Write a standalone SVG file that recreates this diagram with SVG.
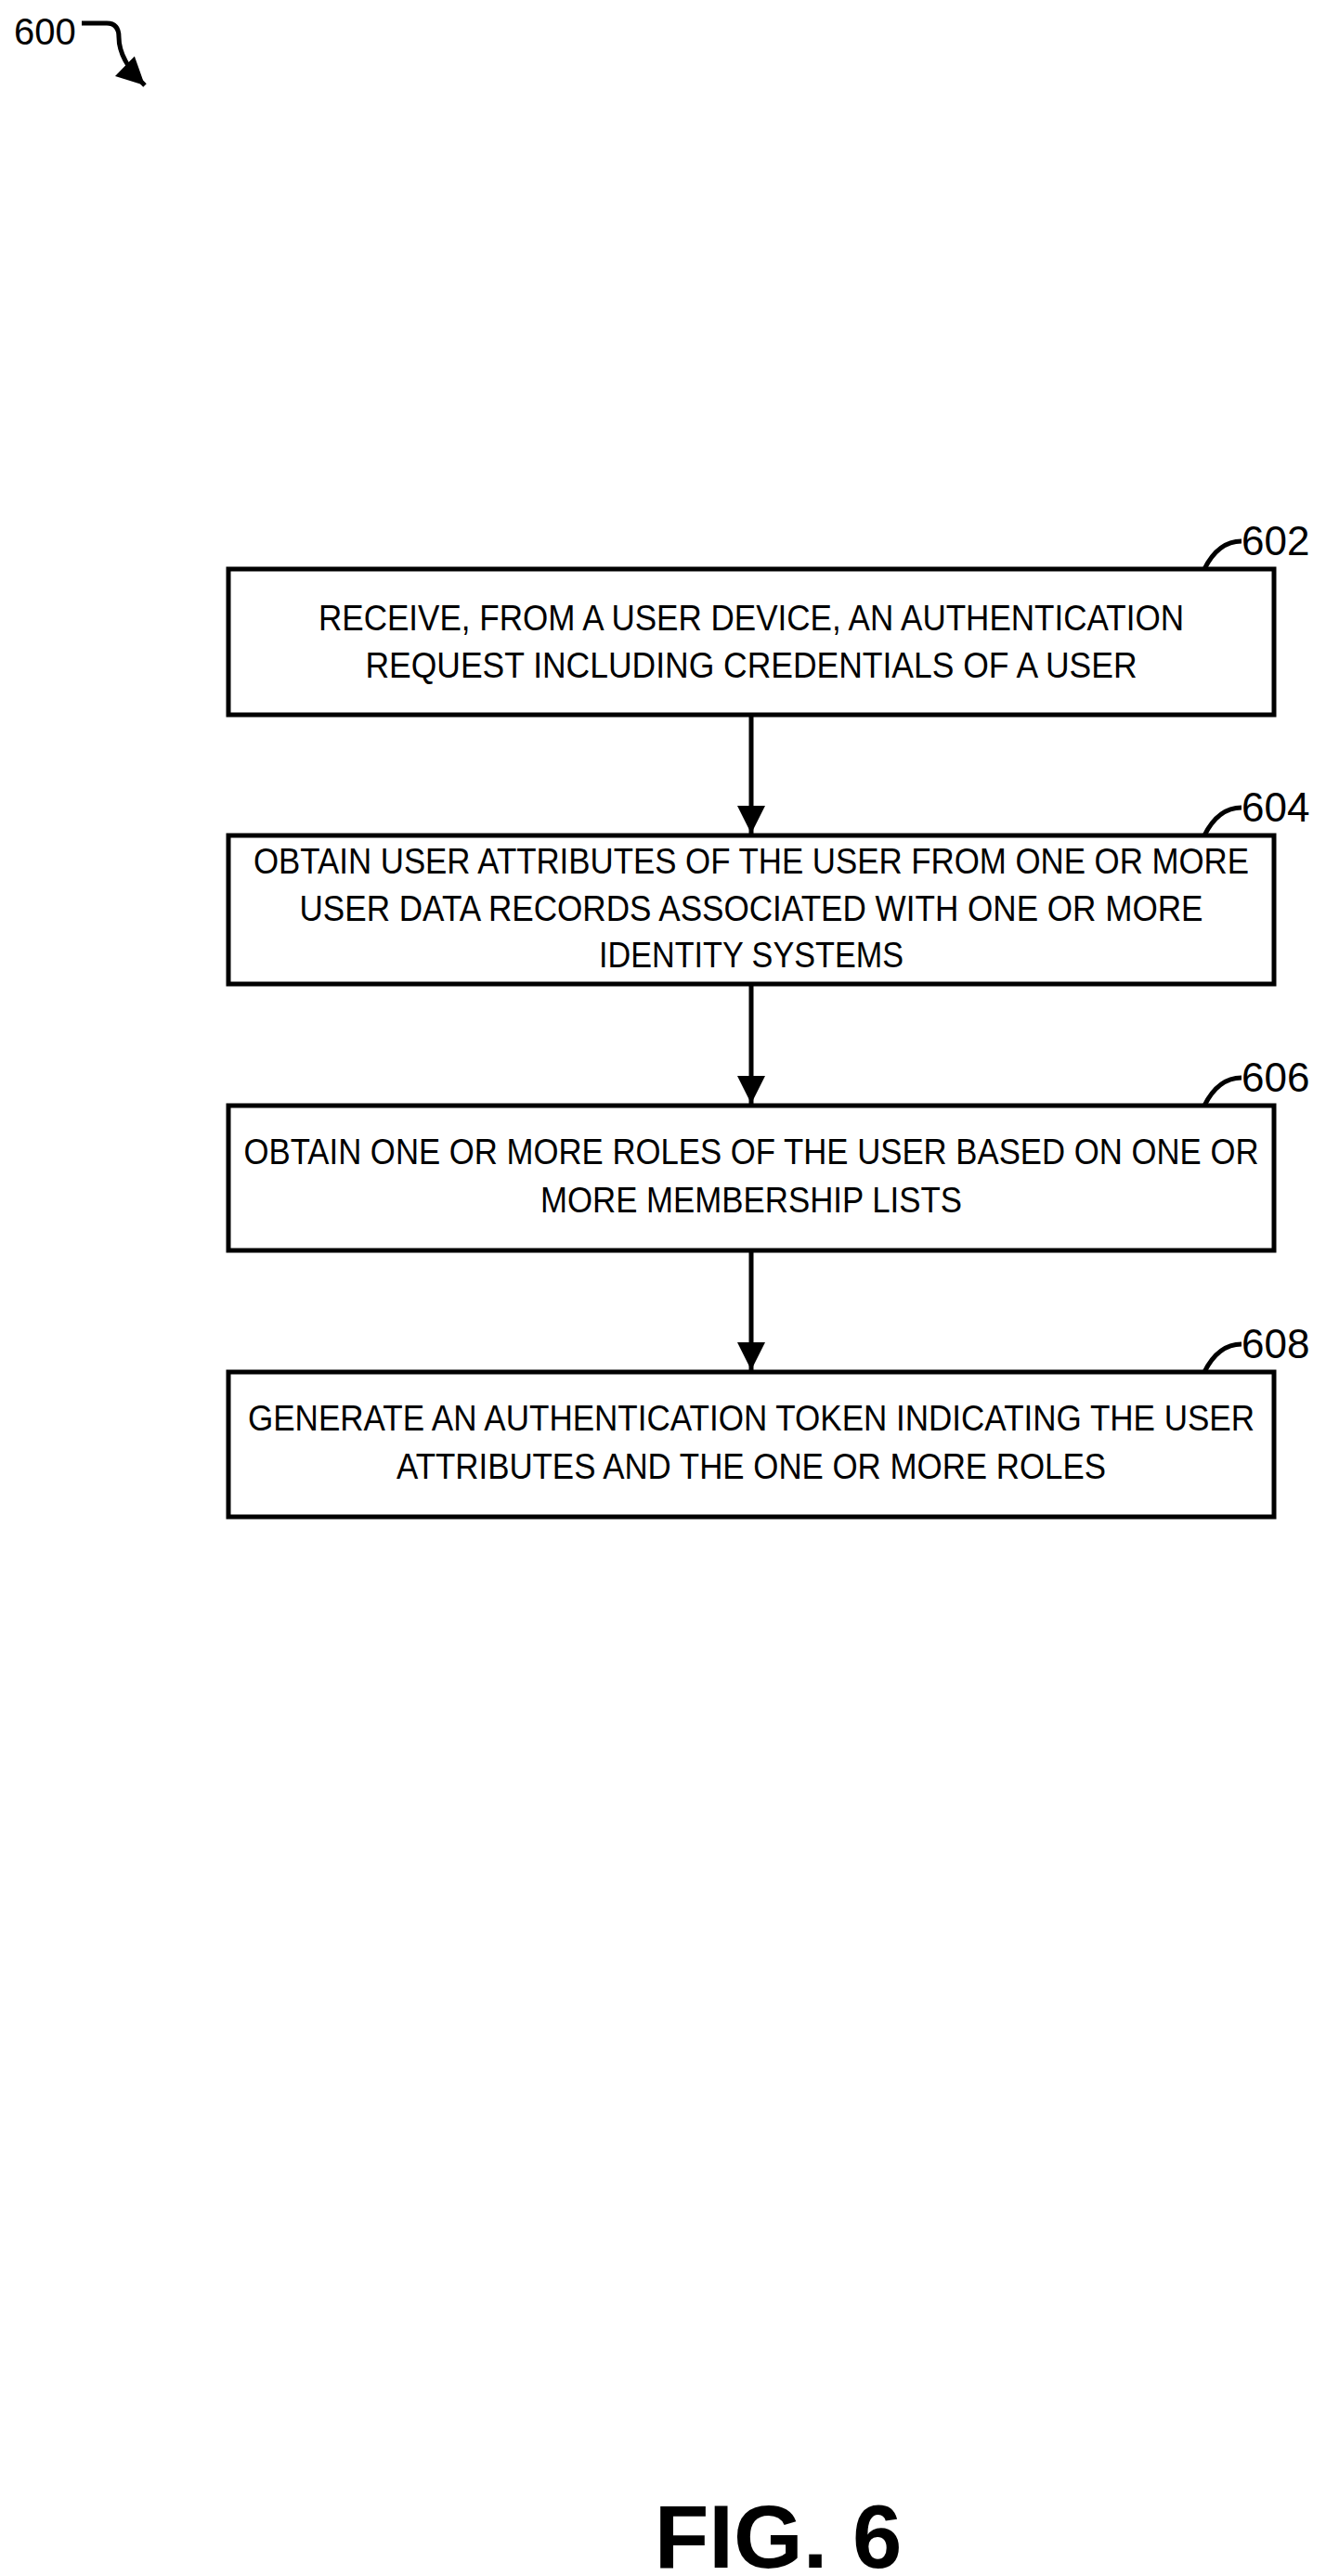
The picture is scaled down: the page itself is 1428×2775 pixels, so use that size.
<svg xmlns="http://www.w3.org/2000/svg" width="1428" height="2775" viewBox="0 0 1428 2775">
<style>
text{font-family:"Liberation Sans",Arial,sans-serif;fill:#000}
.t{font-size:38px;text-anchor:middle}
.l{font-size:44px}
.b{fill:#fff;stroke:#000;stroke-width:5}
.c{fill:none;stroke:#000;stroke-width:5}
</style>
<defs>
<marker id="h" viewBox="0 0 10 10" refX="10" refY="5" markerWidth="30" markerHeight="34" markerUnits="userSpaceOnUse" orient="auto"><path d="M0,0L10,5L0,10z"/></marker></defs>
<g id="n600"><text class="l" x="15" y="48" style="font-size:40px">600</text>
<path class="c" d="M88,25H115Q128,25 128,40Q128,65 156,92" marker-end="url(#h)"/></g>
<g id="n602"><rect class="b" x="246" y="613" width="1126" height="157"/>
<text class="t" x="809" y="679" textLength="932" lengthAdjust="spacingAndGlyphs">RECEIVE, FROM A USER DEVICE, AN AUTHENTICATION</text>
<text class="t" x="809" y="730" textLength="831" lengthAdjust="spacingAndGlyphs">REQUEST INCLUDING CREDENTIALS OF A USER</text>
<path class="c" d="M1297,613Q1312,583 1337,583"/><text class="l" x="1337" y="598">602</text></g>
<g id="n604"><rect class="b" x="246" y="900" width="1126" height="160"/>
<text class="t" x="809" y="941" textLength="1072" lengthAdjust="spacingAndGlyphs">OBTAIN USER ATTRIBUTES OF THE USER FROM ONE OR MORE</text>
<text class="t" x="809" y="992" textLength="973" lengthAdjust="spacingAndGlyphs">USER DATA RECORDS ASSOCIATED WITH ONE OR MORE</text>
<text class="t" x="809" y="1042" textLength="328" lengthAdjust="spacingAndGlyphs">IDENTITY SYSTEMS</text>
<path class="c" d="M1297,900Q1312,870 1337,870"/><text class="l" x="1337" y="885">604</text></g>
<g id="n606"><rect class="b" x="246" y="1191" width="1126" height="156"/>
<text class="t" x="809" y="1254" textLength="1093" lengthAdjust="spacingAndGlyphs">OBTAIN ONE OR MORE ROLES OF THE USER BASED ON ONE OR</text>
<text class="t" x="809" y="1306" textLength="454" lengthAdjust="spacingAndGlyphs">MORE MEMBERSHIP LISTS</text>
<path class="c" d="M1297,1191Q1312,1161 1337,1161"/><text class="l" x="1337" y="1176">606</text></g>
<g id="n608"><rect class="b" x="246" y="1478" width="1126" height="156"/>
<text class="t" x="809" y="1541" textLength="1084" lengthAdjust="spacingAndGlyphs">GENERATE AN AUTHENTICATION TOKEN INDICATING THE USER</text>
<text class="t" x="809" y="1593" textLength="764" lengthAdjust="spacingAndGlyphs">ATTRIBUTES AND THE ONE OR MORE ROLES</text>
<path class="c" d="M1297,1478Q1312,1448 1337,1448"/><text class="l" x="1337" y="1463">608</text></g>
<g id="connectors">
<path class="c" d="M809,772V898" marker-end="url(#h)"/>
<path class="c" d="M809,1062V1189" marker-end="url(#h)"/>
<path class="c" d="M809,1349V1476" marker-end="url(#h)"/>
</g>
<text x="838" y="2766" style="font-size:96px;font-weight:bold;text-anchor:middle">FIG. 6</text>
</svg>
